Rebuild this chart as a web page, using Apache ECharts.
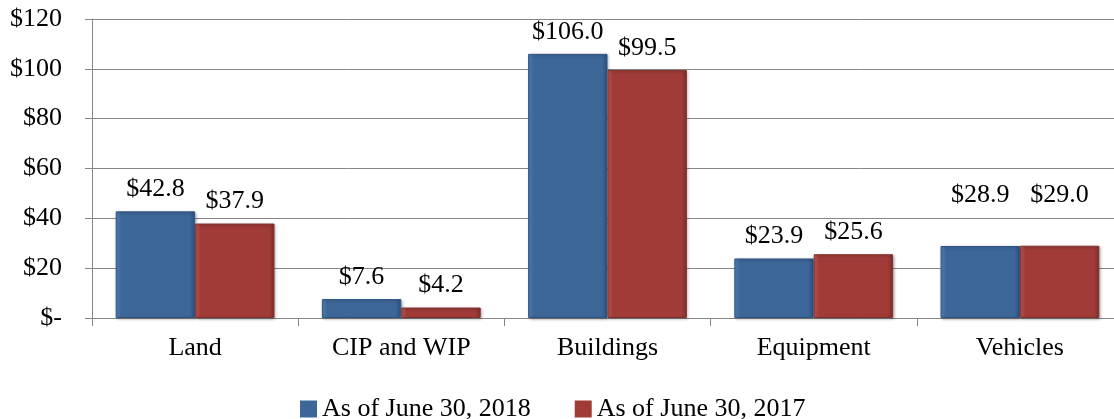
<!DOCTYPE html>
<html>
<head>
<meta charset="utf-8">
<script src="https://cdn.jsdelivr.net/npm/echarts@6/dist/echarts.min.js"></script>
<style>
  html, body { margin: 0; padding: 0; background: #fff; overflow: hidden; }
  #chart { width: 1114px; height: 419px; }
</style>
</head>
<body>
<div id="chart"></div>
<script>
const categories = ['Land', 'CIP and WIP', 'Buildings', 'Equipment', 'Vehicles'];
const values2018 = [42.8, 7.6, 106.0, 23.9, 28.9];
const values2017 = [37.9, 4.2, 99.5, 25.6, 29.0];
const seriesNames = ['As of June 30, 2018', 'As of June 30, 2017'];

const FONT = '"Liberation Serif", "Times New Roman", serif';

// the vehicles labels sit higher than the others in the original
const labelLift = { Vehicles: 29 };

// bevelled look: lighter towards the left edge, darker on the right
function bevel(light, mid, dark) {
  return new echarts.graphic.LinearGradient(0, 0, 1, 0, [
    { offset: 0, color: light },
    { offset: 0.07, color: mid },
    { offset: 0.93, color: mid },
    { offset: 1, color: dark },
  ]);
}

const blueFill = bevel('#5a86bd', '#3d6699', '#2d5080');
const redFill = bevel('#c55c58', '#a03b38', '#7e2e2c');

const chart = echarts.init(document.getElementById('chart'));

const labelStyle = {
  show: true,
  position: 'top',
  distance: 9,
  fontFamily: FONT,
  fontSize: 26,
  color: '#000',
  formatter: (p) => '$' + p.value.toFixed(1),
};

function barStyle(fill, border) {
  return {
    color: fill,
    borderColor: border,
    borderWidth: 1,
    shadowColor: 'rgba(0,0,0,0.3)',
    shadowBlur: 3,
    shadowOffsetX: 1,
    shadowOffsetY: 1,
  };
}

function withLift(values) {
  return values.map((v, i) => {
    const lift = labelLift[categories[i]];
    return lift ? { value: v, label: { offset: [0, -lift] } } : v;
  });
}

chart.setOption({
  animation: false,
  textStyle: { fontFamily: FONT },
  grid: { left: 92, right: -9, top: 19, bottom: 101, outerBoundsMode: 'none' },
  legend: {
    top: 391,
    left: 295,
    itemWidth: 17,
    itemHeight: 17,
    itemGap: 44,
    textStyle: { fontFamily: FONT, fontSize: 26, color: '#000' },
    data: [
      { name: seriesNames[0], icon: 'rect', itemStyle: { color: '#3d6699', borderWidth: 0, shadowBlur: 0 } },
      { name: seriesNames[1], icon: 'rect', itemStyle: { color: '#a03b38', borderWidth: 0, shadowBlur: 0 } },
    ],
  },
  xAxis: {
    type: 'category',
    data: categories,
    axisLine: { lineStyle: { color: '#868686', width: 1 } },
    axisTick: { show: true, length: 8, lineStyle: { color: '#868686' } },
    axisLabel: { fontFamily: FONT, fontSize: 26, color: '#000', margin: 17 },
  },
  yAxis: {
    type: 'value',
    min: 0,
    max: 120,
    interval: 20,
    axisLine: { show: true, lineStyle: { color: '#868686' } },
    axisTick: { show: true, length: 7, lineStyle: { color: '#868686' } },
    splitLine: { lineStyle: { color: '#868686', width: 1 } },
    axisLabel: {
      fontFamily: FONT,
      fontSize: 26,
      color: '#000',
      margin: 30,
      formatter: (v) => (v === 0 ? '$-' : '$' + v),
    },
  },
  series: [
    {
      name: seriesNames[0],
      type: 'bar',
      data: withLift(values2018),
      barGap: '0%',
      barCategoryGap: '23%',
      itemStyle: barStyle(blueFill, '#2f5689'),
      label: labelStyle,
    },
    {
      name: seriesNames[1],
      type: 'bar',
      data: withLift(values2017),
      barGap: '0%',
      barCategoryGap: '23%',
      itemStyle: barStyle(redFill, '#84302d'),
      label: labelStyle,
    },
  ],
});
</script>
</body>
</html>
